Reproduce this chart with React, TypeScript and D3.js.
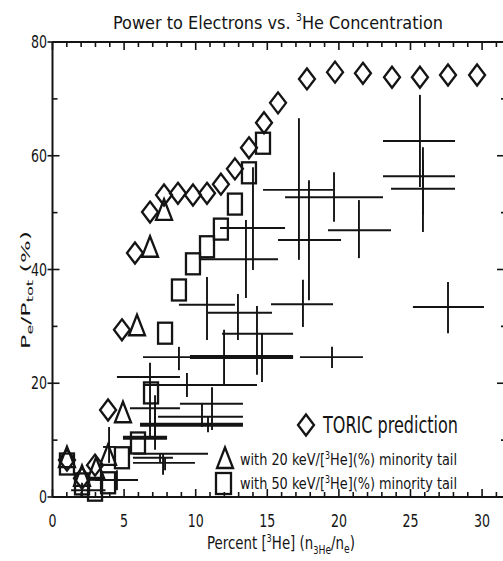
import React from 'react';
import * as d3 from 'd3';

// TORIC prediction (diamonds)
const toricX = [1.01, 2.06, 2.97, 3.88, 4.85, 5.76, 6.81, 7.79, 8.76, 9.81, 10.79, 11.76, 12.74, 13.72, 14.77, 15.75, 17.77, 19.73, 21.68, 23.71, 25.66, 27.62, 29.65];
const toricY = [6.5, 3.3, 5.6, 15.3, 29.4, 42.9, 50.1, 53.1, 53.4, 53.1, 53.4, 55.0, 57.7, 61.4, 65.8, 69.3, 73.5, 74.7, 74.5, 73.8, 73.8, 74.2, 74.2];
// with 20 keV minority tail (triangles)
const tail20X = [1.01, 2.06, 3.04, 3.88, 4.92, 5.9, 6.81, 7.79];
const tail20Y = [7.0, 3.7, 5.1, 7.4, 14.9, 30.2, 44.0, 50.5];
// with 50 keV minority tail (squares)
const tail50X = [1.01, 2.06, 2.97, 3.88, 4.85, 5.97, 6.88, 7.86, 8.83, 9.81, 10.79, 11.76, 12.74, 13.72, 14.7];
const tail50Y = [5.8, 2.3, 1.2, 2.5, 6.9, 9.5, 18.3, 28.8, 36.4, 41.0, 44.0, 47.1, 51.5, 57.0, 62.2];
// measurements with error bars
const measX = [25.66, 25.87, 25.87, 17.21, 19.66, 17.91, 21.40, 17.49, 27.62, 14.00, 13.51, 10.79, 12.95, 14.28, 8.83, 11.98, 14.63, 19.52, 6.81, 9.39, 11.14, 7.16, 10.44, 10.86, 7.16, 7.72, 7.51, 7.86, 4.50, 2.06, 3.95];
const measY = [62.6, 56.4, 54.2, 54.0, 52.7, 45.2, 46.9, 33.9, 33.4, 47.3, 41.8, 33.8, 32.4, 28.7, 24.6, 24.6, 24.6, 24.6, 21.1, 19.7, 16.4, 15.6, 14.1, 12.7, 10.4, 7.6, 6.9, 6.0, 3.0, 1.2, 8.8];
const measXLo = [23.08, 23.08, 23.64, 14.70, 16.24, 15.75, 19.24, 15.26, 25.17, 11.70, 10.30, 8.83, 10.86, 11.84, 6.32, 9.60, 12.53, 17.28, 4.50, 6.32, 8.90, 5.41, 7.37, 6.11, 4.92, 5.62, 5.62, 5.62, 2.97, 1.30, 3.53];
const measXHi = [28.11, 28.11, 28.11, 19.59, 23.08, 20.15, 23.64, 19.59, 30.13, 16.24, 15.75, 12.74, 15.33, 16.80, 13.09, 16.80, 16.80, 21.68, 8.90, 14.28, 13.30, 8.90, 13.30, 13.30, 8.00, 10.86, 8.41, 9.95, 5.97, 3.70, 4.43];
const measYLo = [54.5, 46.6, 49.6, 41.7, 48.4, 34.6, 42.0, 29.9, 28.8, 39.9, 35.0, 27.6, 27.6, 21.5, 22.3, 19.7, 20.2, 22.7, 10.5, 17.6, 11.8, 10.5, 12.3, 11.4, 8.3, 3.9, 6.0, 4.7, 1.2, 0.0, 6.0];
const measYHi = [70.7, 61.5, 59.3, 66.6, 57.1, 55.7, 52.2, 38.2, 37.8, 58.0, 48.7, 38.7, 35.7, 33.6, 26.4, 29.4, 28.7, 26.4, 23.6, 21.8, 19.3, 17.9, 16.5, 14.1, 15.3, 7.7, 7.6, 6.9, 4.7, 2.5, 12.3];
const heavyBars = [15, 23, 24];

const xTickLabels = [0, 5, 10, 15, 20, 25, 30];
const yTickLabels = [0, 20, 40, 60, 80];

const INK = '#141414';
const FONT = "'DejaVu Sans Condensed', 'DejaVu Sans', sans-serif";

const diamondPath = 'M0,-10.5L8,0L0,10.5L-8,0Z';
const trianglePath = 'M0,-10.5L8,10L-8,10Z';

export default function App() {
  const W = 503;
  const H = 561;
  const x = d3.scaleLinear().domain([0, 31.67]).range([52.5, 506]);
  const y = d3.scaleLinear().domain([0, 80]).range([497, 42]);
  const x0 = x(0), x1 = x(31.67), y0 = y(0), y1 = y(80);

  const minorX = d3.range(0, 32, 1);
  const minorY = d3.range(0, 81, 10);

  return (
    <svg width={W} height={H} viewBox={`0 0 ${W} ${H}`}
      style={{ position: 'absolute', left: 0, top: 0, background: '#fff' }}
      xmlns="http://www.w3.org/2000/svg">
      <rect x={0} y={0} width={W} height={H} fill="#fff" />

      {/* Title */}
      <g transform={`translate(278,29) scale(1,1.2)`}>
        <text x={0} y={0} textAnchor="middle" fontFamily={FONT} fontSize={15} fill={INK}
          textLength={330} lengthAdjust="spacingAndGlyphs">
          Power to Electrons vs. <tspan fontSize={9} dy={-7}>3</tspan><tspan dy={7}>He Concentration</tspan>
        </text>
      </g>

      {/* Frame */}
      <g stroke={INK} strokeWidth={2} fill="none">
        <line x1={x0} y1={y1} x2={x1} y2={y1} />
        <line x1={x0} y1={y0} x2={x1} y2={y0} />
        <line x1={x0} y1={y1} x2={x0} y2={y0} />
        <line x1={x1} y1={y1} x2={x1} y2={y0} />
      </g>

      {/* Ticks */}
      <g stroke={INK} strokeWidth={1.6}>
        {minorX.map(v => {
          const major = v % 5 === 0;
          const L = major ? 8 : 5;
          return (
            <g key={'xt' + v}>
              <line x1={x(v)} x2={x(v)} y1={y0} y2={y0 - L} />
              <line x1={x(v)} x2={x(v)} y1={y1} y2={y1 + L} />
            </g>
          );
        })}
        {minorY.map(v => {
          const major = v % 20 === 0;
          return (
            <g key={'yt' + v}>
              <line x1={major ? x0 - 5 : x0} x2={x0 + (major ? 7 : 5)} y1={y(v)} y2={y(v)} />
              <line x1={x1} x2={x1 - (major ? 9 : 5)} y1={y(v)} y2={y(v)} />
            </g>
          );
        })}
      </g>

      {/* Tick labels */}
      {xTickLabels.map(v => (
        <g key={'xl' + v} transform={`translate(${x(v)},527) scale(1,1.22)`}>
          <text textAnchor="middle" fontFamily={FONT} fontSize={14} fill={INK}>{v}</text>
        </g>
      ))}
      {yTickLabels.map(v => (
        <g key={'yl' + v} transform={`translate(47,${y(v) + 6}) scale(1,1.27)`}>
          <text textAnchor="end" fontFamily={FONT} fontSize={14} fill={INK}>{v}</text>
        </g>
      ))}

      {/* Axis titles */}
      <g transform={`translate(281,549) scale(1,1.35)`}>
        <text textAnchor="middle" fontFamily={FONT} fontSize={13} fill={INK}
          textLength={148} lengthAdjust="spacingAndGlyphs">
          Percent [<tspan fontSize={8} dy={-5}>3</tspan><tspan dy={5}>He] (n</tspan><tspan fontSize={8} dy={4}>3</tspan><tspan fontSize={9}>He</tspan><tspan dy={-4}>/n</tspan><tspan fontSize={9} dy={3}>e</tspan><tspan dy={-3}>)</tspan>
        </text>
      </g>
      <g transform={`translate(30,290) rotate(-90)`}>
        <text textAnchor="middle" fontFamily={FONT} fontSize={12} fill={INK}
          textLength={118} lengthAdjust="spacingAndGlyphs">
          P<tspan fontSize={8} dy={3}>e</tspan><tspan dy={-3}>/P</tspan><tspan fontSize={8} dy={3}>tot</tspan><tspan dy={-3}> (%)</tspan>
        </text>
      </g>

      {/* Error-bar measurements */}
      <g stroke={INK} fill="none">
        {measX.map((v, i) => {
          const sw = heavyBars.includes(i) ? 4 : 1.9;
          return (
            <g key={'m' + i} strokeWidth={sw}>
              <line x1={x(measXLo[i])} x2={x(measXHi[i])} y1={y(measY[i])} y2={y(measY[i])} />
              <line x1={x(v)} x2={x(v)} y1={y(measYLo[i])} y2={y(measYHi[i])} strokeWidth={1.9} />
            </g>
          );
        })}
      </g>

      {/* Model markers */}
      <g stroke={INK} strokeWidth={2.3} fill="none" strokeLinejoin="miter">
        {toricX.map((v, i) => (
          <path key={'d' + i} d={diamondPath} transform={`translate(${x(v)},${y(toricY[i])})`} />
        ))}
        {tail20X.map((v, i) => (
          <path key={'t' + i} d={trianglePath} transform={`translate(${x(v)},${y(tail20Y[i])})`} />
        ))}
        {tail50X.map((v, i) => (
          <rect key={'s' + i} x={x(v) - 7} y={y(tail50Y[i]) - 10.5} width={14} height={21} />
        ))}
      </g>

      {/* Legend */}
      <g stroke={INK} strokeWidth={2.3} fill="none">
        <path d={diamondPath} transform="translate(306,425)" />
        <path d={trianglePath} transform="translate(225,458)" />
        <rect x={216} y={473} width={15} height={21} />
      </g>
      <g transform="translate(323,433) scale(1,1.27)">
        <text fontFamily={FONT} fontSize={18} fill={INK} textLength={135} lengthAdjust="spacingAndGlyphs">TORIC prediction</text>
      </g>
      <g transform="translate(240,465) scale(1,1.2)">
        <text fontFamily={FONT} fontSize={13} fill={INK} textLength={217} lengthAdjust="spacingAndGlyphs">
          with 20 keV/[<tspan fontSize={8} dy={-5}>3</tspan><tspan dy={5}>He](%) minority tail</tspan>
        </text>
      </g>
      <g transform="translate(240,489) scale(1,1.2)">
        <text fontFamily={FONT} fontSize={13} fill={INK} textLength={217} lengthAdjust="spacingAndGlyphs">
          with 50 keV/[<tspan fontSize={8} dy={-5}>3</tspan><tspan dy={5}>He](%) minority tail</tspan>
        </text>
      </g>
    </svg>
  );
}
